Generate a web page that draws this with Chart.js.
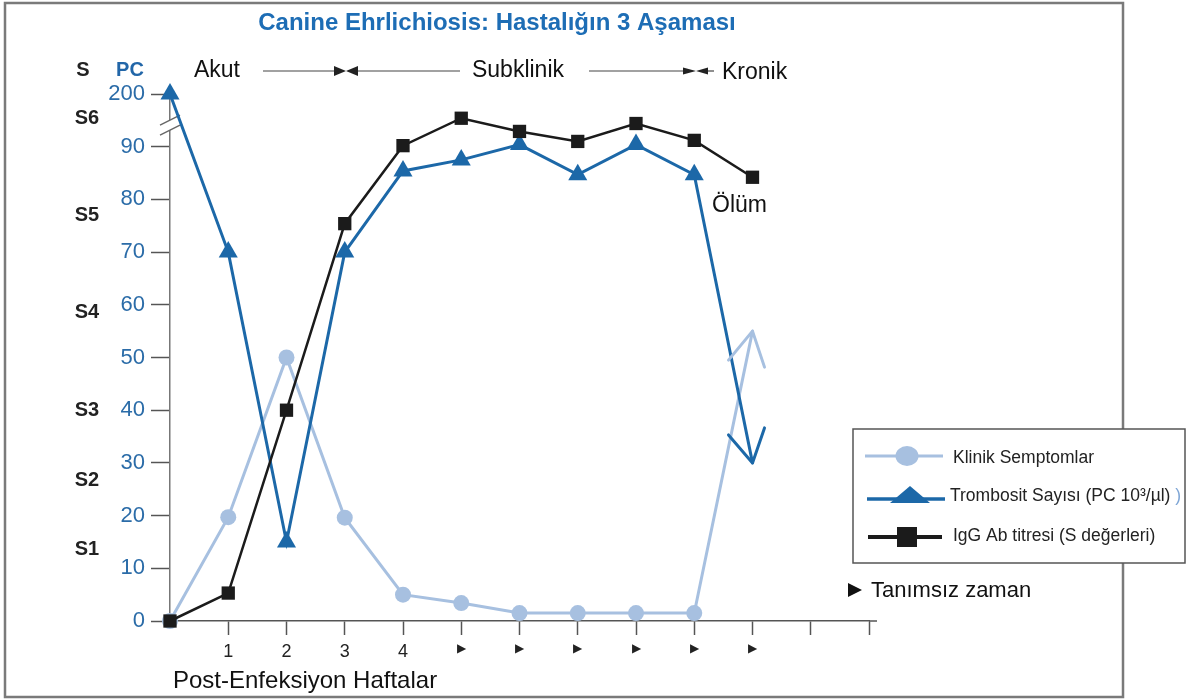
<!DOCTYPE html>
<html>
<head>
<meta charset="utf-8">
<script src="https://cdn.jsdelivr.net/npm/chart.js@4.4.0/dist/chart.umd.min.js"></script>
<style>
  body { margin: 0; background: #fff; }
  canvas { display: block; }
</style>
</head>
<body>
<canvas id="chart" width="1188" height="699"></canvas>
<script>
// x positions: weeks after infection, ▶ = undefined time
const weeks = ['', '1', '2', '3', '4', '▶', '▶', '▶', '▶', '▶', '▶', '', ''];
// left axis: platelet count (PC), top tick is drawn as 200 after the axis break
const pcTickText = { 100: '200' };
// second label column: IgG S values
const sLabels = ['S1', 'S2', 'S3', 'S4', 'S5', 'S6'];
const sLabelAt = [13.5, 26.6, 39.9, 58.5, 76.9, 95.3];

const clinical = [0, 19.7, 50, 19.6, 5, 3.4, 1.5, 1.5, 1.5, 1.5, 55];
const platelets = [100, 70, 15, 70, 85.4, 87.5, 90.4, 84.7, 90.4, 84.7, 30];
const igg = [0, 5.3, 40, 75.4, 90.2, 95.4, 92.9, 91, 94.4, 91.2, 84.2];

const names = ['Klinik Semptomlar', 'Trombosit Sayısı (PC 10³/µl)', 'IgG Ab titresi (S değerleri)'];

const LIGHT = '#a7c0e0';
const BLUE = '#1c68a8';
const BLACK = '#1b1b1b';
const FONT = '"Liberation Sans", Arial, sans-serif';

Chart.defaults.font.family = FONT;

function tri(ctx, pts) {
  ctx.beginPath();
  ctx.moveTo(pts[0][0], pts[0][1]);
  for (let i = 1; i < pts.length; i++) ctx.lineTo(pts[i][0], pts[i][1]);
  ctx.closePath();
  ctx.fill();
}

function line(ctx, x1, y1, x2, y2) {
  ctx.beginPath();
  ctx.moveTo(x1, y1);
  ctx.lineTo(x2, y2);
  ctx.stroke();
}

const decor = {
  id: 'decor',
  beforeDraw(chart) {
    const ctx = chart.ctx;
    ctx.save();
    ctx.fillStyle = '#fff';
    ctx.fillRect(0, 0, chart.width, chart.height);
    ctx.strokeStyle = '#7a7a7a';
    ctx.lineWidth = 2.5;
    ctx.strokeRect(5, 3, 1118, 694);
    ctx.restore();
  },
  beforeDatasetsDraw(chart) {
    // axis break between 90 and 200
    const ctx = chart.ctx;
    const x = chart.chartArea.left;
    const y = chart.scales.y.getPixelForValue(94);
    ctx.save();
    ctx.fillStyle = '#fff';
    tri(ctx, [[x - 9, y - 1], [x + 9, y - 10], [x + 9, y + 0], [x - 9, y + 9]]);
    ctx.strokeStyle = '#666';
    ctx.lineWidth = 1.5;
    line(ctx, x - 10, y - 0.5, x + 10, y - 10.5);
    line(ctx, x - 10, y + 9.5, x + 10, y - 0.5);
    ctx.restore();
  },
  afterDraw(chart) {
    const ctx = chart.ctx;
    const ys = chart.scales.y;
    const area = chart.chartArea;
    ctx.save();
    ctx.textBaseline = 'middle';

    // title
    ctx.fillStyle = '#1d6db5';
    ctx.font = 'bold 24px ' + FONT;
    ctx.textAlign = 'center';
    ctx.fillText('Canine Ehrlichiosis: Hastalığın 3 Aşaması', 497, 23);

    // axis headers
    ctx.font = 'bold 20px ' + FONT;
    ctx.fillStyle = '#222';
    ctx.fillText('S', 83, 70);
    ctx.fillStyle = '#2266a8';
    ctx.fillText('PC', 130, 70);

    // S labels
    ctx.fillStyle = '#222';
    sLabels.forEach((s, i) => ctx.fillText(s, 87, ys.getPixelForValue(sLabelAt[i])));

    // phase row
    ctx.fillStyle = '#111';
    ctx.font = '23px ' + FONT;
    ctx.fillText('Akut', 217, 71);
    ctx.fillText('Subklinik', 518, 71);
    ctx.textAlign = 'left';
    ctx.fillText('Kronik', 722, 73);
    ctx.strokeStyle = '#444';
    ctx.lineWidth = 1.2;
    line(ctx, 263, 71, 334, 71);
    line(ctx, 358, 71, 460, 71);
    line(ctx, 589, 71, 684, 71);
    line(ctx, 708, 71, 714, 71);
    ctx.fillStyle = '#222';
    tri(ctx, [[334, 66], [334, 76], [346, 71]]);
    tri(ctx, [[358, 66], [358, 76], [346, 71]]);
    tri(ctx, [[683, 67.5], [683, 74.5], [696, 71]]);
    tri(ctx, [[708, 67.5], [708, 74.5], [696, 71]]);

    // other notes
    ctx.fillStyle = '#111';
    ctx.fillText('Ölüm', 712, 206);
    ctx.font = '22px ' + FONT;
    ctx.fillText('Tanımsız zaman', 871, 591);
    tri(ctx, [[848, 583], [848, 597], [862, 590]]);
    ctx.font = '24px ' + FONT;
    ctx.fillText('Post-Enfeksiyon Haftalar', 173, 681);

    // x axis runs a little past the last tick
    ctx.strokeStyle = '#555';
    ctx.lineWidth = 1.5;
    line(ctx, area.right, area.bottom, area.right + 8, area.bottom);

    // arrow heads at the last points
    const pc = chart.getDatasetMeta(0).data[10];
    const cs = chart.getDatasetMeta(2).data[10];
    ctx.lineWidth = 3;
    ctx.lineCap = 'round';
    ctx.strokeStyle = LIGHT;
    line(ctx, cs.x, cs.y, cs.x - 24, cs.y + 29);
    line(ctx, cs.x, cs.y, cs.x + 12, cs.y + 36);
    ctx.strokeStyle = BLUE;
    line(ctx, pc.x, pc.y, pc.x - 24, pc.y - 28);
    line(ctx, pc.x, pc.y, pc.x + 12, pc.y - 35);
    ctx.lineCap = 'butt';

    // legend box
    ctx.fillStyle = '#fff';
    ctx.fillRect(853, 429, 332, 134);
    ctx.strokeStyle = '#555';
    ctx.lineWidth = 1.5;
    ctx.strokeRect(853, 429, 332, 134);

    ctx.lineWidth = 3;
    ctx.strokeStyle = LIGHT;
    line(ctx, 865, 456, 943, 456);
    ctx.fillStyle = LIGHT;
    ctx.beginPath();
    ctx.ellipse(907, 456, 11.5, 10, 0, 0, Math.PI * 2);
    ctx.fill();

    ctx.lineWidth = 3.5;
    ctx.strokeStyle = BLUE;
    line(ctx, 867, 499, 945, 499);
    ctx.fillStyle = BLUE;
    tri(ctx, [[890, 503], [930, 503], [910, 486]]);

    ctx.lineWidth = 4;
    ctx.strokeStyle = BLACK;
    line(ctx, 868, 537, 942, 537);
    ctx.fillStyle = BLACK;
    ctx.fillRect(897, 527, 20, 20);

    ctx.fillStyle = '#222';
    ctx.font = '17.5px ' + FONT;
    ctx.fillText(names[0], 953, 458);
    ctx.fillText(names[1], 950, 496);
    const w = ctx.measureText(names[1] + ' ').width;
    ctx.fillStyle = '#7fa6d6';
    ctx.fillText(')', 950 + w, 496);
    ctx.fillStyle = '#222';
    ctx.fillText(names[2], 953, 536);

    ctx.restore();
  }
};

new Chart(document.getElementById('chart'), {
  type: 'line',
  data: {
    labels: weeks,
    datasets: [
      {
        label: names[1],
        data: platelets,
        borderColor: BLUE,
        backgroundColor: BLUE,
        borderWidth: 3,
        pointStyle: 'triangle',
        pointRadius: platelets.map((v, i) => (i === 10 ? 0 : 11)),
        pointBorderWidth: 0,
        order: 2,
        clip: false,
      },
      {
        label: names[2],
        data: igg,
        borderColor: BLACK,
        backgroundColor: BLACK,
        borderWidth: 2.5,
        pointStyle: 'rect',
        pointRadius: 9.4,
        pointBorderWidth: 0,
        order: 1,
        clip: false,
      },
      {
        label: names[0],
        data: clinical,
        borderColor: LIGHT,
        backgroundColor: LIGHT,
        borderWidth: 3,
        pointStyle: 'circle',
        pointRadius: clinical.map((v, i) => (i === 10 ? 0 : 8)),
        pointBorderWidth: 0,
        order: 3,
        clip: false,
      },
    ],
  },
  options: {
    responsive: false,
    animation: false,
    layout: { padding: { left: 0, right: 319, top: 94, bottom: 0 } },
    plugins: {
      legend: { display: false },
      tooltip: { enabled: false },
    },
    scales: {
      x: {
        type: 'category',
        offset: false,
        afterFit: (scale) => { scale.height = 78; },
        border: { color: '#555', width: 1.5 },
        grid: {
          drawOnChartArea: false,
          tickLength: 14,
          tickWidth: 1.5,
          tickColor: (c) => (c.index === 0 ? 'rgba(0,0,0,0)' : '#555'),
        },
        ticks: {
          autoSkip: false,
          maxRotation: 0,
          padding: 6,
          color: '#222',
          font: (c) => ({ size: c.tick && c.tick.label === '▶' ? 12 : 18 }),
        },
      },
      y: {
        min: 0,
        max: 100,
        afterFit: (scale) => { scale.width = 170; },
        border: { color: '#777', width: 1.5 },
        grid: { drawOnChartArea: false, tickLength: 19, tickWidth: 1.5, tickColor: '#555' },
        ticks: {
          stepSize: 10,
          padding: 6,
          color: '#2b6ca8',
          font: { size: 22 },
          callback: (v) => pcTickText[v] || String(v),
        },
      },
    },
  },
  plugins: [decor],
});
</script>
</body>
</html>
